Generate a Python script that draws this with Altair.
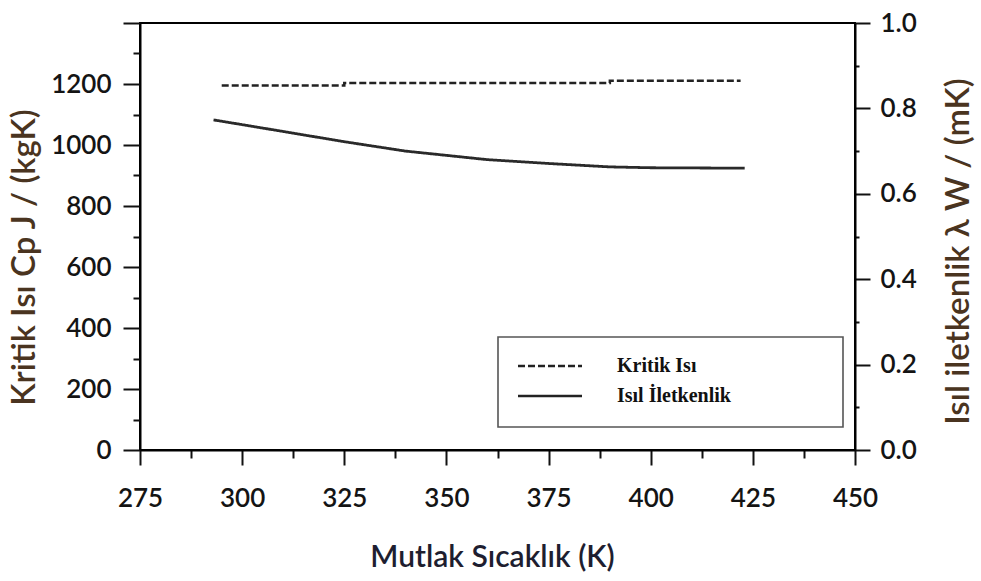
import altair as alt
import pandas as pd

# Kritik ısı (Cp) - basamaklı seri, sol eksen
T_KRITIK = [295, 325, 390, 422]
CP_KRITIK = [1195, 1203, 1211, 1211]

# Isıl iletkenlik (λ) - sağ eksen
T_ILETKEN = [293, 300, 310, 325, 340, 350, 360, 375, 390, 400, 423]
LAMBDA = [0.773, 0.762, 0.746, 0.722, 0.700, 0.690, 0.680, 0.671, 0.663, 0.661, 0.660]

SERILER = ["Kritik Isı", "Isıl İletkenlik"]

X_TICKS = [275 + 12.5 * i for i in range(15)]
CP_TICKS = list(range(0, 1401, 100))
LAMBDA_TICKS = [round(0.1 * i, 1) for i in range(11)]

df_cp = pd.DataFrame({"T": T_KRITIK, "deger": CP_KRITIK, "seri": SERILER[0]})
df_l = pd.DataFrame({"T": T_ILETKEN, "deger": LAMBDA, "seri": SERILER[1]})

FONT = "Lato"
LABEL_COLOR = "#141414"
YTITLE_COLOR = "#4a3420"
XTITLE_COLOR = "#1e1e30"

x_enc = alt.X(
    "T:Q",
    scale=alt.Scale(domain=[275, 450], nice=False, zero=False),
    axis=alt.Axis(
        values=X_TICKS,
        labelExpr="datum.value % 25 === 0 ? datum.label : ''",
        format="d",
        tickSize={"condition": {"test": "datum.value % 25 === 0", "value": 15}, "value": 8},
        tickWidth=2,
        tickColor="#111",
        domainColor="#000",
        domainWidth=2,
        labelFont=FONT,
        labelFontSize=26,
        labelFontWeight=600,
        labelColor=LABEL_COLOR,
        labelPadding=20,
        labelFlush=False,
        labelOverlap=False,
        grid=False,
        title="Mutlak Sıcaklık (K)",
        titleFont=FONT,
        titleFontSize=30,
        titleFontWeight=600,
        titleColor=XTITLE_COLOR,
        titleX=352,
        titleY=107,
        titleBaseline="middle",
        titleAlign="center",
    ),
)

# wide horizontal stroke for the legend samples (unit-box path, scaled by symbolSize)
LEGEND_STROKE = "M-3,0H3"
dash_scale = alt.Scale(domain=SERILER, range=[[7, 3], [1, 0]])
legend = alt.Legend(
    orient="none",
    legendX=379,
    legendY=312,
    title=None,
    padding=19,
    symbolType=LEGEND_STROKE,
    symbolSize=455,
    symbolStrokeWidth=2.5,
    symbolStrokeColor="#222",
    symbolFillColor="transparent",
    labelFont="Liberation Serif",
    labelFontSize=20,
    labelFontWeight="bold",
    labelColor="#111",
    labelOffset=55,
    rowPadding=8,
)

cp_line = (
    alt.Chart(df_cp)
    .mark_line(color="#222", strokeWidth=2.5, interpolate="step-after")
    .encode(
        x=x_enc,
        y=alt.Y(
            "deger:Q",
            scale=alt.Scale(domain=[0, 1400], nice=False),
            axis=alt.Axis(
                orient="left",
                values=CP_TICKS,
                labelExpr="datum.value % 200 === 0 && datum.value <= 1200 ? datum.label : ''",
                format="d",
                tickSize={"condition": {"test": "datum.value % 200 === 0", "value": 17}, "value": 7},
                tickWidth=2,
                tickColor="#111",
                domainColor="#000",
                domainWidth=2,
                labelFont=FONT,
                labelFontSize=26,
                labelFontWeight=600,
                labelColor=LABEL_COLOR,
                labelPadding=12,
                labelOverlap=False,
                grid=False,
                title="Kritik Isı Cp J / (kgK)",
                titleFont=FONT,
                titleFontSize=33,
                titleFontWeight=600,
                titleColor=YTITLE_COLOR,
                titleAngle=270,
                titleX=-116,
                titleY=234,
                titleBaseline="middle",
                titleAlign="center",
            ),
        ),
        strokeDash=alt.StrokeDash("seri:N", scale=dash_scale, legend=legend),
    )
)

lambda_line = (
    alt.Chart(df_l)
    .mark_line(color="#2a2a2a", strokeWidth=2.8)
    .encode(
        x=x_enc,
        y=alt.Y(
            "deger:Q",
            scale=alt.Scale(domain=[0, 1.0], nice=False),
            axis=alt.Axis(
                orient="right",
                values=LAMBDA_TICKS,
                labelExpr="round(datum.value * 10) % 2 === 0 ? datum.label : ''",
                format=".1f",
                tickSize={"condition": {"test": "round(datum.value * 10) % 2 === 0", "value": 15}, "value": 4},
                tickWidth=2,
                tickColor="#111",
                domainColor="#000",
                domainWidth=2,
                labelFont=FONT,
                labelFontSize=26,
                labelFontWeight=600,
                labelColor=LABEL_COLOR,
                labelPadding=10,
                labelOverlap=False,
                grid=False,
                title="Isıl iletkenlik λ W / (mK)",
                titleFont=FONT,
                titleFontSize=33,
                titleFontWeight=600,
                titleColor=YTITLE_COLOR,
                titleAngle=270,
                titleX=103,
                titleY=228,
                titleBaseline="middle",
                titleAlign="center",
            ),
        ),
        strokeDash=alt.StrokeDash("seri:N", scale=dash_scale, legend=legend),
    )
)

# legend frame
legend_box = (
    alt.Chart(alt.Data(values=[{}]))
    .mark_rect(fill="white", stroke="#555", strokeWidth=1.6)
    .encode(x=alt.value(358), x2=alt.value(703), y=alt.value(314), y2=alt.value(404))
)

chart = (
    alt.layer(legend_box, cp_line, lambda_line)
    .resolve_scale(y="independent")
    .properties(
        width=715,
        height=427,
        autosize=alt.AutoSizeParams(type="none"),
        padding={"left": 140, "top": 23, "right": 126, "bottom": 131},
        background="white",
    )
    .configure_view(stroke="#000", strokeWidth=2)
)

chart.save("out.html", embed_options={"renderer": "svg", "actions": False})
